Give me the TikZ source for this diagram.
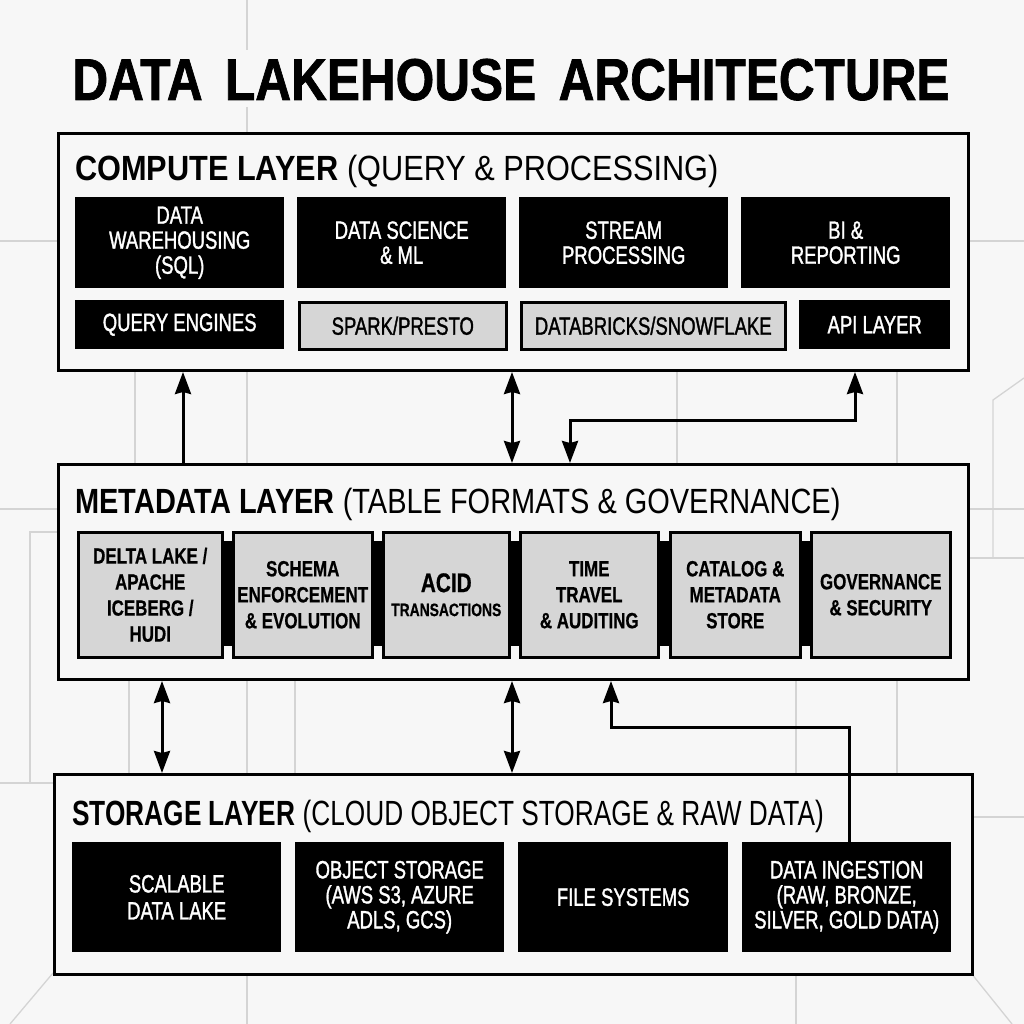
\documentclass[tikz,border=0pt]{standalone}
\usepackage{fontspec}
\usepackage{graphicx}
\newfontfamily\boxf[FakeStretch=0.74,FakeBold=1.3]{Liberation Sans}
\newfontfamily\mboxf[FakeStretch=0.77,FakeBold=0.6]{Liberation Sans Bold}
\newfontfamily\titf[FakeStretch=0.86]{Liberation Sans}
\newfontfamily\bigtitf[FakeStretch=0.84,FakeBold=1.2]{Liberation Sans Bold}
\usetikzlibrary{arrows.meta}
\definecolor{bg}{HTML}{F7F7F7}
\definecolor{gridc}{HTML}{D4D4D4}
\definecolor{cellgray}{HTML}{D6D6D6}
\begin{document}
\begin{tikzpicture}[x=1pt,y=-1pt,
  gridline/.style={draw=gridc, line width=1.3pt},
  layer/.style={draw=black, line width=3pt, fill=bg, anchor=north west, inner sep=0pt},
  blk/.style={fill=black, text=white, anchor=north west, inner sep=0pt, align=center,
              font=\boxf\fontsize{25}{25}\selectfont},
  gry/.style={fill=cellgray, draw=black, line width=2.5pt, text=black, anchor=north west,
              inner sep=0pt, align=center, font=\boxf\fontsize{25}{25}\selectfont},
  mbox/.style={fill=cellgray, draw=black, line width=2.5pt, text=black, anchor=north west,
              inner sep=0pt, align=center, font=\mboxf\fontsize{22}{26}\selectfont},
  bar/.style={fill=black, draw=none},
  ltitle/.style={anchor=base west, inner sep=0pt, font=\titf\fontsize{35}{35}\selectfont},
  conn/.style={line width=3pt, line join=miter},
  tipU/.style={conn, -{Stealth[length=22pt,width=16pt,inset=2pt]}},
  tipB/.style={conn, {Stealth[length=22pt,width=16pt,inset=2pt]}-{Stealth[length=22pt,width=16pt,inset=2pt]}}
]
% background
\fill[bg] (0,0) rectangle (1024,1024);
\useasboundingbox (0,0) rectangle (1024,1024);

% faint background grid
\draw[gridline] (247,0) -- (247,50);
\draw[gridline] (247,107) -- (247,132);
\draw[gridline] (0,241) -- (57,241);
\draw[gridline] (967,241) -- (1024,241);
\foreach \gx in {135,247,677,897} \draw[gridline] (\gx,369) -- (\gx,463);
\draw[gridline] (1024,378) -- (993,400) -- (993,558);
\draw[gridline] (967,509) -- (1024,509);
\draw[gridline] (967,558) -- (1024,558);
\draw[gridline] (0,509) -- (57,509);
\draw[gridline] (57,532) -- (30,532) -- (30,783);
\draw[gridline] (0,783) -- (53,783);
\foreach \gx in {129,247,295,796,897} \draw[gridline] (\gx,678) -- (\gx,773);
\draw[gridline] (971,817) -- (1024,817);
\foreach \gx in {247,796} \draw[gridline] (\gx,973) -- (\gx,1024);
\draw[gridline] (53,973) -- (10,1024);
\draw[gridline] (971,973) -- (1012,1024);

% title
\node[anchor=base, inner sep=0pt, font=\bigtitf\fontsize{59}{59}\selectfont] (title)
  at (511,100) {DATA\hspace{0.38em}LAKEHOUSE\hspace{0.38em}ARCHITECTURE};

% ===== compute layer =====
\node[layer, minimum width=910pt, minimum height=237pt] (compute) at (57,132) {};
\node[ltitle] (ctitle) at (75,181) {\scalebox{1.02}[1]{\bfseries COMPUTE LAYER\mdseries\ (QUERY \& PROCESSING)}};
\node[blk, minimum width=209pt, minimum height=91pt] (dw) at (75,197) {DATA\\WAREHOUSING\\(SQL)};
\node[blk, minimum width=209pt, minimum height=91pt] (ds) at (297,197) {DATA SCIENCE\\\& ML};
\node[blk, minimum width=209pt, minimum height=91pt] (sp) at (519,197) {STREAM\\PROCESSING};
\node[blk, minimum width=209pt, minimum height=91pt] (bi) at (741,197) {BI \&\\REPORTING};
\node[blk, minimum width=209pt, minimum height=49pt] (qe) at (75,300) {QUERY ENGINES};
\node[gry, minimum width=207pt, minimum height=47pt] (spk) at (298,301) {SPARK/PRESTO};
\node[gry, minimum width=264pt, minimum height=47pt] (dbs) at (520,301) {DATABRICKS/SNOWFLAKE};
\node[blk, minimum width=151pt, minimum height=49pt] (api) at (799,300) {API LAYER};

% ===== metadata layer =====
\node[layer, minimum width=910pt, minimum height=215pt] (meta) at (57,463) {};
\node[ltitle] (mtitle) at (75,513) {\scalebox{0.962}[1]{\bfseries METADATA LAYER\mdseries\ (TABLE FORMATS \& GOVERNANCE)}};
\fill[bar] (220,541) rectangle (232,646);
\fill[bar] (370,541) rectangle (382,646);
\fill[bar] (507,541) rectangle (519,646);
\fill[bar] (656,541) rectangle (669,646);
\fill[bar] (798,541) rectangle (810,646);
\node[mbox, minimum width=144pt, minimum height=125pt] (delta) at (77,531) {DELTA LAKE /\\APACHE\\ICEBERG /\\HUDI};
\node[mbox, minimum width=139pt, minimum height=125pt] (schema) at (232,531) {SCHEMA\\ENFORCEMENT\\\& EVOLUTION};
\node[mbox, minimum width=126pt, minimum height=125pt] (acid) at (382,531) {{\fontsize{27}{27}\selectfont ACID}\\[-2pt]{\fontsize{18}{20}\selectfont TRANSACTIONS}};
\node[mbox, minimum width=138pt, minimum height=125pt] (time) at (519,531) {TIME\\TRAVEL\\\& AUDITING};
\node[mbox, minimum width=130pt, minimum height=125pt] (cat) at (669,531) {CATALOG \&\\METADATA\\STORE};
\node[mbox, minimum width=139pt, minimum height=125pt] (gov) at (810,531) {GOVERNANCE\\\& SECURITY};

% ===== storage layer =====
\node[layer, minimum width=918pt, minimum height=200pt] (storage) at (53,773) {};
\node[ltitle] (stitle) at (72,825) {\scalebox{0.872}[1]{\bfseries STORAGE LAYER\mdseries\ (CLOUD OBJECT STORAGE \& RAW DATA)}};
\node[blk, minimum width=209pt, minimum height=110pt, font=\boxf\fontsize{25}{27}\selectfont] (sdl) at (72,842) {SCALABLE\\DATA LAKE};
\node[blk, minimum width=209pt, minimum height=110pt] (obj) at (295,842) {OBJECT STORAGE\\(AWS S3, AZURE\\ADLS, GCS)};
\node[blk, minimum width=210pt, minimum height=110pt] (fs) at (518,842) {FILE SYSTEMS};
\node[blk, minimum width=209pt, minimum height=110pt] (di) at (742,842) {DATA INGESTION\\(RAW, BRONZE,\\SILVER, GOLD DATA)};

% ===== connectors =====
\coordinate (x1) at (183,0);
\coordinate (x2) at (512,0);
\coordinate (k1) at (570,420);
\coordinate (k2) at (855,420);
\coordinate (x5) at (162,0);
\coordinate (k3) at (611,727);
\coordinate (k4) at (849,727);

\draw[tipU] (meta.north -| x1) -- (compute.south -| x1);
\draw[tipB] (compute.south -| x2) -- (meta.north -| x2);
\draw[tipB] (meta.north -| k1) -- (k1) -- (k2) -- (compute.south -| k2);

\draw[tipB] (meta.south -| x5) -- (storage.north -| x5);
\draw[tipB] (meta.south -| x2) -- (storage.north -| x2);
\draw[tipU] (di.north -| k4) -- (k4) -- (k3) -- (meta.south -| k3);
\end{tikzpicture}
\end{document}
